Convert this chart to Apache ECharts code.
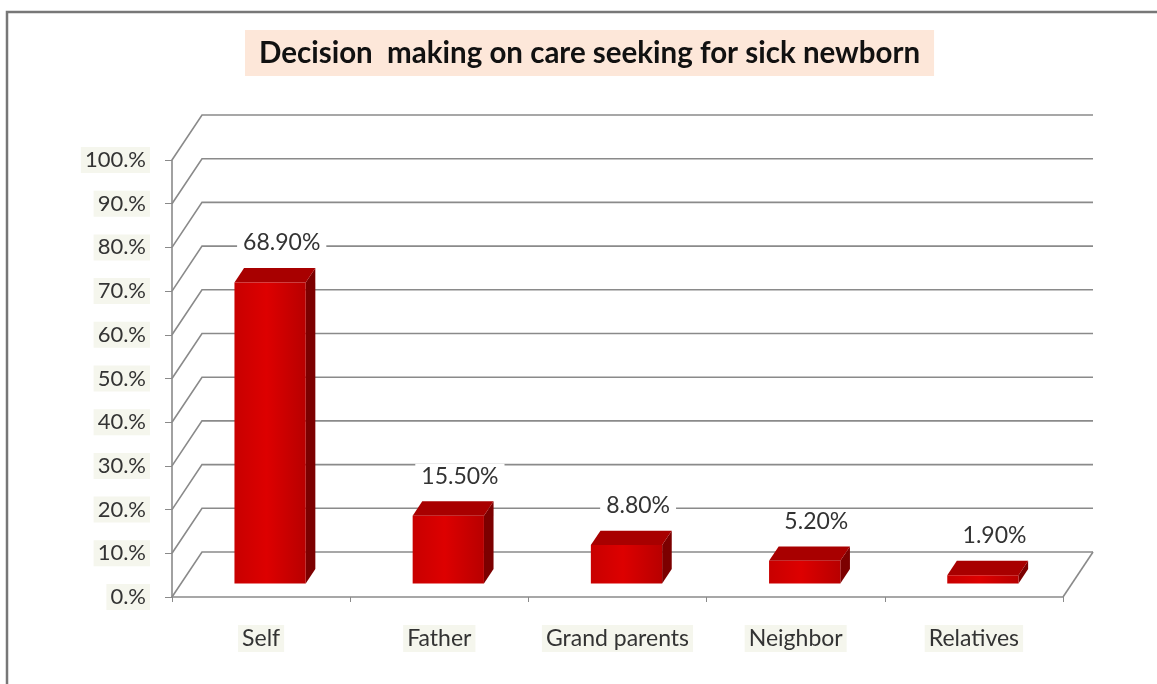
<!DOCTYPE html>
<html>
<head>
<meta charset="utf-8">
<script src="https://cdn.jsdelivr.net/npm/echarts@6/dist/echarts.min.js"></script>
<style>
  html, body { margin: 0; padding: 0; background: #fff; }
  #chart { width: 1157px; height: 684px; }
</style>
</head>
<body>
<div id="chart"></div>
<script>
// ---- data ----
const categories = ['Self', 'Father', 'Grand parents', 'Neighbor', 'Relatives'];
const values = [68.9, 15.5, 8.8, 5.2, 1.9];
const yTicks = [0, 10, 20, 30, 40, 50, 60, 70, 80, 90, 100];
const titleText = 'Decision  making on care seeking for sick newborn';

// ---- 3D look (styles only) ----
const DX = 30, DY = -45;       // wall depth offset
const F1 = 0.3, F2 = 0.62;     // bar depth (front / back fraction)
const FONT = 'Lato';

const chart = echarts.init(document.getElementById('chart'), null, { renderer: 'canvas' });

function gridRender(params, api) {
  const cs = params.coordSys;
  const x0 = cs.x, x1 = cs.x + cs.width;
  const p = api.coord([0, api.value(1)]);
  const y = p[1];
  const children = [{
    type: 'polyline',
    shape: { points: [[x0, y], [x0 + DX, y + DY], [x1 + DX, y + DY]] },
    style: { stroke: '#8a8a8a', lineWidth: 1.6, fill: null }
  }];
  if (api.value(1) === 0) {
    children.push({
      type: 'line',
      shape: { x1: x1, y1: y, x2: x1 + DX, y2: y + DY },
      style: { stroke: '#8a8a8a', lineWidth: 1.6 }
    });
  }
  return { type: 'group', children: children };
}

function barRender(params, api) {
  const i = api.value(0), v = api.value(1);
  const base = api.coord([i, 0]);
  const top = api.coord([i, v]);
  const bw = api.size([1, 0])[0] * 0.4;
  const fx = DX * F1, fy = DY * F1, bx = DX * F2, by = DY * F2;
  const L = base[0] - bw / 2, R = base[0] + bw / 2;
  const fTop = top[1] + fy, fBot = base[1] + fy;
  const bTop = top[1] + by, bBot = base[1] + by;
  const fL = L + fx, fR = R + fx, bL = L + bx, bR = R + bx;
  return {
    type: 'group',
    children: [
      { type: 'polygon', shape: { points: [[fR, fTop], [bR, bTop], [bR, bBot], [fR, fBot]] },
        style: { fill: '#7c0000' } },
      { type: 'polygon', shape: { points: [[fL, fTop], [fR, fTop], [bR, bTop], [bL, bTop]] },
        style: { fill: '#a80000' } },
      { type: 'rect', shape: { x: fL, y: fTop, width: bw, height: fBot - fTop },
        style: { fill: new echarts.graphic.LinearGradient(0, 0, 1, 0, [
          { offset: 0, color: '#c80000' }, { offset: 0.45, color: '#dd0000' }, { offset: 1, color: '#b80000' }]) } },
      { type: 'text', z2: 10,
        style: { x: (L + R) / 2 + bx + 2, y: bTop - 25, text: v.toFixed(2) + '%',
          font: '23px ' + FONT, fill: '#333', align: 'center', verticalAlign: 'middle',
          backgroundColor: '#fff', padding: [1, 6] } }
    ]
  };
}

const option = {
  animation: false,
  backgroundColor: '#fff',
  title: {
    text: titleText,
    left: 245, top: 30,
    padding: [8, 14, 8, 14],
    backgroundColor: '#fde7d9',
    textStyle: { fontFamily: FONT, fontSize: 29.5, fontWeight: 'bold', color: '#111' }
  },
  graphic: [{
    type: 'polyline', z: 100,
    shape: { points: [[7, 684], [7, 12], [1157, 12]] },
    style: { stroke: '#777', lineWidth: 2.5, fill: null }
  }],
  grid: { left: 172, right: 94, top: 160, bottom: 87 },
  xAxis: {
    type: 'category',
    data: categories,
    boundaryGap: true,
    axisLine: { lineStyle: { color: '#8a8a8a', width: 1.6 } },
    axisTick: { show: true, interval: 0, length: 5, lineStyle: { color: '#8a8a8a' } },
    axisLabel: { interval: 0, fontFamily: FONT, fontSize: 23, color: '#333', margin: 28,
      backgroundColor: 'rgba(236,238,220,0.5)', padding: [2, 4] },
    splitLine: { show: false }
  },
  yAxis: {
    type: 'value',
    min: 0, max: 100, interval: 10,
    axisLine: { show: true, lineStyle: { color: '#8a8a8a', width: 1.6 } },
    axisTick: { show: true, length: 7, lineStyle: { color: '#8a8a8a' } },
    axisLabel: { fontFamily: FONT, fontSize: 22, color: '#333', margin: 22,
      formatter: v => v + '.%',
      backgroundColor: 'rgba(236,238,220,0.5)', padding: [2, 4] },
    splitLine: { show: false }
  },
  series: [
    { type: 'custom', name: 'walls', z: 1, silent: true,
      renderItem: gridRender, data: yTicks.map(v => [0, v]) },
    { type: 'custom', name: 'bars', z: 5,
      renderItem: barRender, data: values.map((v, i) => [i, v]) }
  ]
};
chart.setOption(option);
</script>
</body>
</html>
